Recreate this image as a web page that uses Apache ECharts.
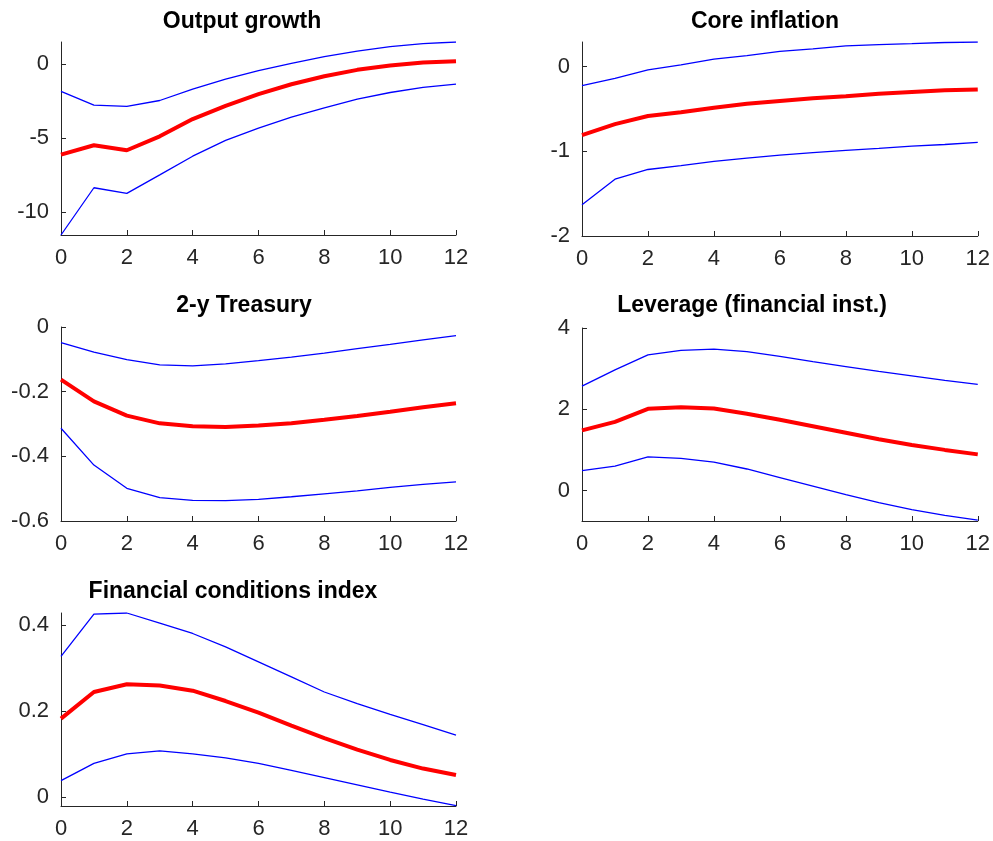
<!DOCTYPE html>
<html>
<head>
<meta charset="utf-8">
<script src="https://cdn.jsdelivr.net/npm/echarts@6/dist/echarts.min.js"></script>
<style>
  html, body { margin: 0; padding: 0; background: #ffffff; }
  #chart { width: 993px; height: 841px; }
</style>
</head>
<body>
<div id="chart"></div>
<script>
// Horizon (quarters after the shock)
const horizon = [0, 1, 2, 3, 4, 5, 6, 7, 8, 9, 10, 11, 12];
const xTicks = [0, 2, 4, 6, 8, 10, 12];

const titles = ['Output growth', 'Core inflation', '2-y Treasury', 'Leverage (financial inst.)', 'Financial conditions index'];

// Output growth: median response and error bands
const outputUpper = [-1.86, -2.78, -2.87, -2.47, -1.70, -1.03, -0.45, 0.04, 0.49, 0.87, 1.17, 1.37, 1.48];
const outputMedian = [-6.12, -5.49, -5.83, -4.89, -3.72, -2.83, -2.04, -1.37, -0.83, -0.40, -0.11, 0.09, 0.18];
const outputLower = [-11.55, -8.36, -8.74, -7.49, -6.23, -5.16, -4.33, -3.59, -2.96, -2.38, -1.93, -1.59, -1.37];
const outputTicks = [-10, -5, 0];

// Core inflation
const coreUpper = [-0.225, -0.14, -0.04, 0.02, 0.087, 0.13, 0.18, 0.21, 0.245, 0.26, 0.27, 0.284, 0.29];
const coreMedian = [-0.81, -0.68, -0.584, -0.54, -0.485, -0.44, -0.406, -0.375, -0.35, -0.32, -0.30, -0.28, -0.27];
const coreLower = [-1.63, -1.33, -1.215, -1.17, -1.12, -1.08, -1.045, -1.015, -0.99, -0.966, -0.94, -0.92, -0.895];
const coreTicks = [-2, -1, 0];

// 2-year Treasury yield
const treasUpper = [-0.048, -0.078, -0.101, -0.117, -0.12, -0.114, -0.104, -0.093, -0.081, -0.067, -0.054, -0.040, -0.027];
const treasMedian = [-0.163, -0.23, -0.274, -0.298, -0.307, -0.309, -0.305, -0.298, -0.287, -0.275, -0.262, -0.248, -0.236];
const treasLower = [-0.313, -0.427, -0.499, -0.528, -0.536, -0.537, -0.533, -0.525, -0.516, -0.507, -0.496, -0.487, -0.479];
const treasTicks = [-0.6, -0.4, -0.2, 0];

// Leverage of financial institutions
const levUpper = [2.57, 2.97, 3.34, 3.45, 3.48, 3.42, 3.30, 3.17, 3.05, 2.93, 2.82, 2.71, 2.61];
const levMedian = [1.48, 1.69, 2.01, 2.05, 2.02, 1.89, 1.74, 1.58, 1.42, 1.26, 1.12, 1.00, 0.89];
const levLower = [0.49, 0.60, 0.83, 0.79, 0.70, 0.53, 0.32, 0.11, -0.10, -0.30, -0.47, -0.61, -0.73];
const levTicks = [0, 2, 4];

// Financial conditions index
const fciUpper = [0.328, 0.426, 0.4286, 0.405, 0.381, 0.350, 0.315, 0.280, 0.245, 0.218, 0.193, 0.169, 0.145];
const fciMedian = [0.183, 0.245, 0.263, 0.260, 0.248, 0.224, 0.197, 0.167, 0.138, 0.111, 0.087, 0.067, 0.052];
const fciLower = [0.039, 0.079, 0.101, 0.108, 0.101, 0.092, 0.079, 0.063, 0.046, 0.029, 0.012, -0.004, -0.019];
const fciTicks = [0, 0.2, 0.4];

const panels = [
  { upper: outputUpper, median: outputMedian, lower: outputLower, ticks: outputTicks, min: -11.55, max: 1.48,
    grid: { left: 61, top: 42, width: 395, height: 193 }, titleX: 242, titleY: 10 },
  { upper: coreUpper, median: coreMedian, lower: coreLower, ticks: coreTicks, min: -2, max: 0.29,
    grid: { left: 582, top: 42, width: 397, height: 194 }, titleX: 765, titleY: 10 },
  { upper: treasUpper, median: treasMedian, lower: treasLower, ticks: treasTicks, min: -0.6, max: 0,
    grid: { left: 61, top: 327, width: 395, height: 194 }, titleX: 244, titleY: 294 },
  { upper: levUpper, median: levMedian, lower: levLower, ticks: levTicks, min: -0.75, max: 4,
    grid: { left: 582, top: 328, width: 397, height: 193 }, titleX: 752, titleY: 294 },
  { upper: fciUpper, median: fciMedian, lower: fciLower, ticks: fciTicks, min: -0.02, max: 0.4286,
    grid: { left: 61, top: 613, width: 395, height: 193 }, titleX: 233, titleY: 580 }
];

const axisColor = '#262626';
const labelFont = { color: axisColor, fontSize: 22, fontFamily: 'Liberation Sans, Arial, sans-serif' };
const pairs = v => horizon.map((h, i) => [h, v[i]]);

const option = {
  backgroundColor: '#ffffff',
  animation: false,
  title: panels.map((p, i) => ({
    text: titles[i],
    left: p.titleX,
    top: p.titleY,
    textAlign: 'center',
    padding: 0,
    textStyle: { color: '#000000', fontSize: 23, fontWeight: 'bold', fontFamily: 'Liberation Sans, Arial, sans-serif' }
  })),
  grid: panels.map(p => Object.assign({ containLabel: false }, p.grid)),
  xAxis: panels.map((p, i) => ({
    type: 'value', gridIndex: i, min: 0, max: 12, interval: 2,
    axisLine: { show: true, onZero: false, lineStyle: { color: axisColor, width: 1 } },
    axisTick: { show: true, inside: true, length: 5, lineStyle: { color: axisColor } },
    axisLabel: Object.assign({ margin: 12 }, labelFont),
    splitLine: { show: false }
  })),
  yAxis: panels.map((p, i) => ({
    type: 'value', gridIndex: i, min: p.min, max: p.max,
    axisLine: { show: true, onZero: false, lineStyle: { color: axisColor, width: 1 } },
    axisTick: { show: true, inside: true, length: 5, customValues: p.ticks, lineStyle: { color: axisColor } },
    axisLabel: Object.assign({ margin: 12, customValues: p.ticks, formatter: v => String(v) }, labelFont),
    splitLine: { show: false }
  })),
  series: panels.flatMap((p, i) => [
    { type: 'line', xAxisIndex: i, yAxisIndex: i, data: pairs(p.upper), showSymbol: false, symbol: 'none',
      lineStyle: { color: '#0000ff', width: 1.3 }, z: 2 },
    { type: 'line', xAxisIndex: i, yAxisIndex: i, data: pairs(p.lower), showSymbol: false, symbol: 'none',
      lineStyle: { color: '#0000ff', width: 1.3 }, z: 2 },
    { type: 'line', xAxisIndex: i, yAxisIndex: i, data: pairs(p.median), showSymbol: false, symbol: 'none',
      lineStyle: { color: '#ff0000', width: 4 }, z: 3 }
  ])
};

const chart = echarts.init(document.getElementById('chart'), null, { renderer: 'canvas' });
chart.setOption(option);
</script>
</body>
</html>
